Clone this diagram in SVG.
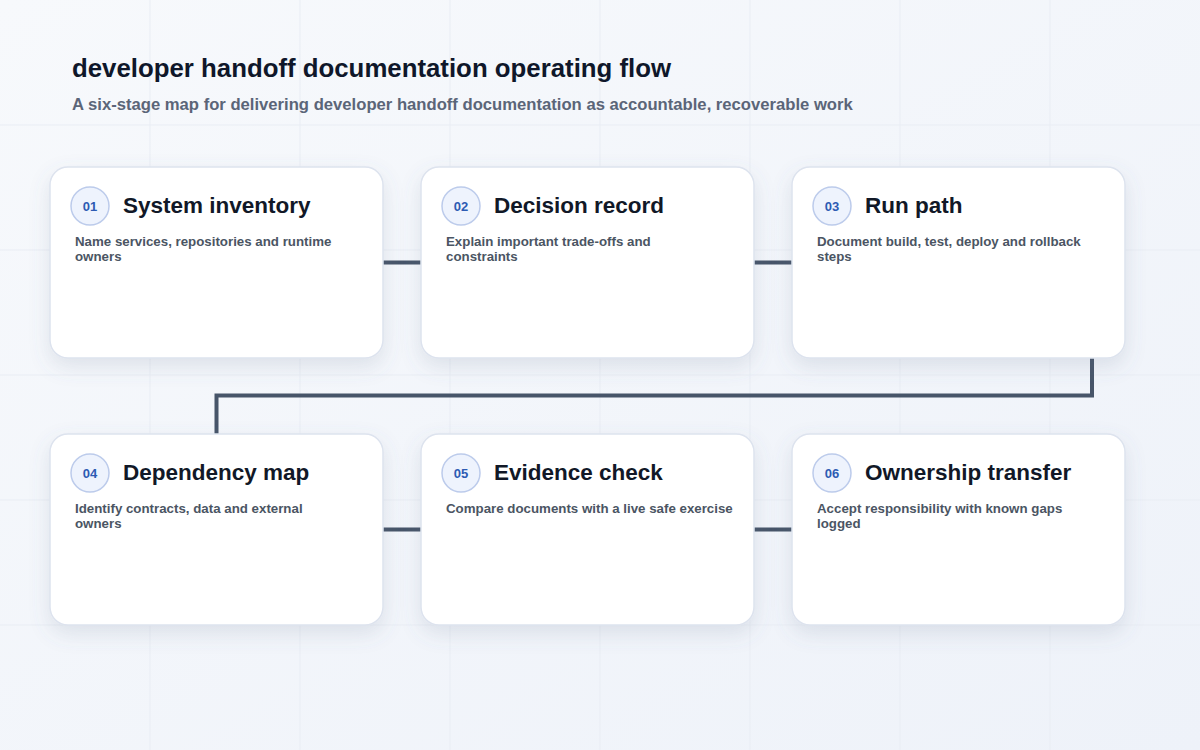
<svg xmlns="http://www.w3.org/2000/svg" width="1200" height="750" viewBox="0 0 1200 750">
<defs>
<linearGradient id="bg" x1="0" y1="0" x2="1" y2="1">
<stop offset="0" stop-color="#f7f9fc"/>
<stop offset="1" stop-color="#eef2f9"/>
</linearGradient>
<filter id="sh" x="-20%" y="-20%" width="140%" height="150%">
<feDropShadow dx="0" dy="8" stdDeviation="10" flood-color="#64748b" flood-opacity="0.16"/>
</filter>
<style>
.grid{stroke:#e9edf4;stroke-width:1}
.card{fill:#ffffff;stroke:#dde3ee;stroke-width:1.5;filter:url(#sh)}
.badge{fill:#eef3fd;stroke:#bccbeb;stroke-width:1.5}
.num{font-family:"Liberation Sans",Arial,sans-serif;font-weight:700;font-size:13px;fill:#2d5bb3;text-anchor:middle}
.ttl{font-family:"Liberation Sans",Arial,sans-serif;font-weight:700;font-size:22.5px;fill:#111827}
.desc{font-family:"Liberation Sans",Arial,sans-serif;font-weight:700;font-size:13.3px;fill:#4b5563}
.conn{fill:none;stroke:#475569;stroke-width:4}
</style>
</defs>
<rect width="1200" height="750" fill="url(#bg)"/>
<g id="grid">
<line class="grid" x1="150" y1="0" x2="150" y2="750"/>
<line class="grid" x1="300" y1="0" x2="300" y2="750"/>
<line class="grid" x1="450" y1="0" x2="450" y2="750"/>
<line class="grid" x1="600" y1="0" x2="600" y2="750"/>
<line class="grid" x1="750" y1="0" x2="750" y2="750"/>
<line class="grid" x1="900" y1="0" x2="900" y2="750"/>
<line class="grid" x1="1050" y1="0" x2="1050" y2="750"/>
<line class="grid" x1="0" y1="125" x2="1200" y2="125"/>
<line class="grid" x1="0" y1="250" x2="1200" y2="250"/>
<line class="grid" x1="0" y1="375" x2="1200" y2="375"/>
<line class="grid" x1="0" y1="500" x2="1200" y2="500"/>
<line class="grid" x1="0" y1="625" x2="1200" y2="625"/>
</g>
<g id="header">
<text x="72" y="77" font-family="'Liberation Sans',Arial,sans-serif" font-weight="700" font-size="25.8" fill="#0f172a">developer handoff documentation operating flow</text>
<text x="72" y="110" font-family="'Liberation Sans',Arial,sans-serif" font-weight="700" font-size="16.65" fill="#5b6578">A six-stage map for delivering developer handoff documentation as accountable, recoverable work</text>
</g>
<g id="connectors">
<line class="conn" x1="383" y1="262.5" x2="421" y2="262.5"/>
<line class="conn" x1="754" y1="262.5" x2="792" y2="262.5"/>
<path class="conn" d="M1092 358 V395.5 H216.5 V434"/>
<line class="conn" x1="383" y1="529.5" x2="421" y2="529.5"/>
<line class="conn" x1="754" y1="529.5" x2="792" y2="529.5"/>
</g>
<g id="node-01">
<rect class="card" x="50" y="167" width="333" height="191" rx="18"/>
<circle class="badge" cx="90" cy="206" r="19"/>
<text class="num" x="90" y="211">01</text>
<text class="ttl" x="123" y="213">System inventory</text>
<text class="desc" x="75" y="246">Name services, repositories and runtime</text>
<text class="desc" x="75" y="261">owners</text>
</g>
<g id="node-02">
<rect class="card" x="421" y="167" width="333" height="191" rx="18"/>
<circle class="badge" cx="461" cy="206" r="19"/>
<text class="num" x="461" y="211">02</text>
<text class="ttl" x="494" y="213">Decision record</text>
<text class="desc" x="446" y="246">Explain important trade-offs and</text>
<text class="desc" x="446" y="261">constraints</text>
</g>
<g id="node-03">
<rect class="card" x="792" y="167" width="333" height="191" rx="18"/>
<circle class="badge" cx="832" cy="206" r="19"/>
<text class="num" x="832" y="211">03</text>
<text class="ttl" x="865" y="213">Run path</text>
<text class="desc" x="817" y="246">Document build, test, deploy and rollback</text>
<text class="desc" x="817" y="261">steps</text>
</g>
<g id="node-04">
<rect class="card" x="50" y="434" width="333" height="191" rx="18"/>
<circle class="badge" cx="90" cy="473" r="19"/>
<text class="num" x="90" y="478">04</text>
<text class="ttl" x="123" y="480">Dependency map</text>
<text class="desc" x="75" y="513">Identify contracts, data and external</text>
<text class="desc" x="75" y="528">owners</text>
</g>
<g id="node-05">
<rect class="card" x="421" y="434" width="333" height="191" rx="18"/>
<circle class="badge" cx="461" cy="473" r="19"/>
<text class="num" x="461" y="478">05</text>
<text class="ttl" x="494" y="480">Evidence check</text>
<text class="desc" x="446" y="513">Compare documents with a live safe exercise</text>
</g>
<g id="node-06">
<rect class="card" x="792" y="434" width="333" height="191" rx="18"/>
<circle class="badge" cx="832" cy="473" r="19"/>
<text class="num" x="832" y="478">06</text>
<text class="ttl" x="865" y="480">Ownership transfer</text>
<text class="desc" x="817" y="513">Accept responsibility with known gaps</text>
<text class="desc" x="817" y="528">logged</text>
</g>
</svg>
